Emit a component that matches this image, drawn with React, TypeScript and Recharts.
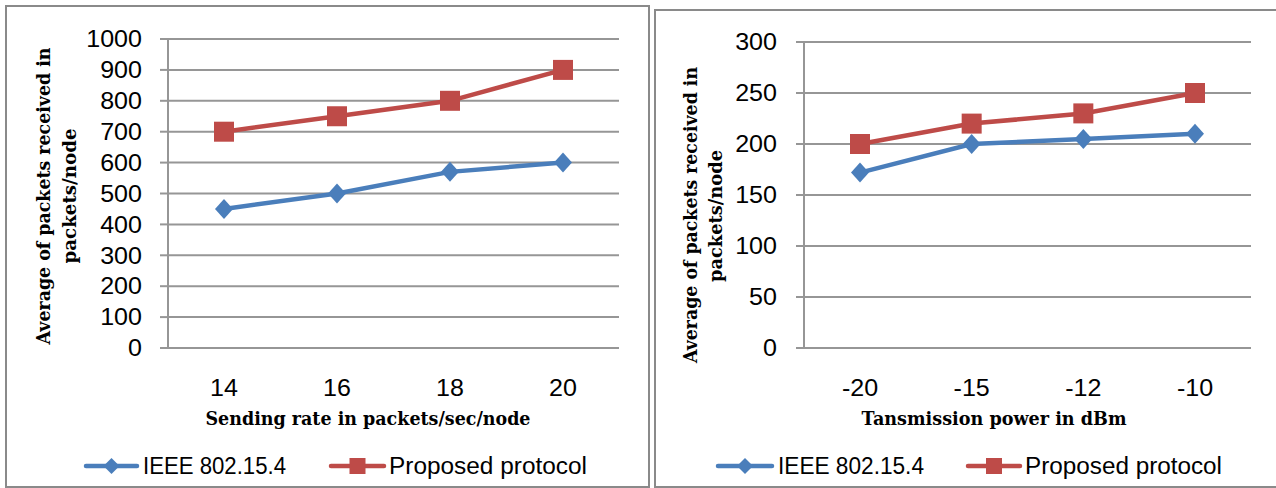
import { LineChart, Line, XAxis, YAxis, CartesianGrid, Legend } from 'recharts'

// left panel: sending rate
const sendRates = ['14', '16', '18', '20']
const ieeeByRate = [450, 500, 570, 600]
const proposedByRate = [700, 750, 800, 900]
const rateTicks = [0, 100, 200, 300, 400, 500, 600, 700, 800, 900, 1000]

// right panel: transmission power
const txPowers = ['-20', '-15', '-12', '-10']
const ieeeByPower = [172, 200, 205, 210]
const proposedByPower = [200, 220, 230, 250]
const powerTicks = [0, 50, 100, 150, 200, 250, 300]

const seriesNames = ['IEEE 802.15.4', 'Proposed protocol']

const BLUE = '#4A7EBB'
const RED = '#BE4B48'
const GRID = '#969696'
const BORDER = '#8a8a8a'
const TICK_FONT = "'Liberation Sans', Arial, sans-serif"
const TITLE_FONT = "'DejaVu Serif', 'Liberation Serif', serif"

const rateData = sendRates.map((x, i) => ({ x, ieee: ieeeByRate[i], proposed: proposedByRate[i] }))
const powerData = txPowers.map((x, i) => ({ x, ieee: ieeeByPower[i], proposed: proposedByPower[i] }))

const XTick = (p: any) => (
  <g transform={`translate(${p.x},${p.y})`}>
    <text transform="scale(1.09,1)" textAnchor="middle" dy="0.71em" fontSize={23} fontFamily={TICK_FONT} fill="#000">
      {p.payload.value}
    </text>
  </g>
)

const YTick = (p: any) => (
  <g transform={`translate(${p.x},${p.y})`}>
    <text transform="scale(1.09,1)" textAnchor="end" dy="0.36em" fontSize={23} fontFamily={TICK_FONT} fill="#000">
      {p.payload.value}
    </text>
  </g>
)

const diamond = (cx: number, cy: number, w: number, h: number) =>
  `${cx},${cy - h} ${cx + w},${cy} ${cx},${cy + h} ${cx - w},${cy}`

const renderDiamond = (p: any) => {
  if (p.cx == null || p.cy == null) return <g key={`d${p.index}`} />
  return <polygon key={`d${p.index}`} points={diamond(p.cx, p.cy, 9, 10)} fill={BLUE} />
}

const renderSquare = (p: any) => {
  if (p.cx == null || p.cy == null) return <g key={`s${p.index}`} />
  return <rect key={`s${p.index}`} x={p.cx - 10} y={p.cy - 10} width={20} height={20} fill={RED} />
}

function LegendBox({ payload, items, width }: any) {
  const list = payload && payload.length ? payload : seriesNames.map((n, i) => ({ value: n, color: i ? RED : BLUE }))
  return (
    <svg width={width} height={30} style={{ display: 'block' }}>
      {list.map((entry: any, i: number) => {
        const it = items[i]
        const mid = (it.x1 + it.x2) / 2
        const color = i === 0 ? BLUE : RED
        return (
          <g key={entry.value}>
            <line x1={it.x1} x2={it.x2} y1={15} y2={15} stroke={color} strokeWidth={4.5} strokeLinecap="round" />
            {i === 0
              ? <polygon points={diamond(mid, 15, 8, 8)} fill={color} />
              : <rect x={mid - 8} y={7} width={16} height={16} fill={color} />}
            <text x={it.tx} y={23} fontSize={23} fontFamily={TICK_FONT} fill="#000" textLength={it.tw} lengthAdjust="spacingAndGlyphs">
              {entry.value}
            </text>
          </g>
        )
      })}
    </svg>
  )
}

function ChartPanel({ data, yTicks, left, width, marginTop, marginRight, yAxisWidth, yTickMargin, xPad, legendItems }: any) {
  return (
    <div style={{ position: 'absolute', left, top: 0 }}>
      <LineChart width={width} height={488} data={data} margin={{ top: marginTop, right: marginRight, bottom: 100, left: 0 }}>
        <CartesianGrid vertical={false} stroke={GRID} strokeWidth={2} />
        <XAxis
          dataKey="x"
          height={40}
          interval={0}
          padding={{ left: xPad, right: xPad }}
          axisLine={{ stroke: GRID, strokeWidth: 2 }}
          tickLine={false}
          tickSize={0}
          tickMargin={32}
          tick={(p: any) => <XTick {...p} />}
        />
        <YAxis
          width={yAxisWidth}
          domain={[0, yTicks[yTicks.length - 1]]}
          ticks={yTicks}
          interval={0}
          axisLine={{ stroke: GRID, strokeWidth: 2 }}
          tickLine={{ stroke: GRID, strokeWidth: 2 }}
          tickSize={8}
          tickMargin={yTickMargin}
          tick={(p: any) => <YTick {...p} />}
        />
        <Line dataKey="ieee" name={seriesNames[0]} stroke={BLUE} strokeWidth={4.5} dot={renderDiamond} activeDot={false} isAnimationActive={false} />
        <Line dataKey="proposed" name={seriesNames[1]} stroke={RED} strokeWidth={4.5} dot={renderSquare} activeDot={false} isAnimationActive={false} />
        <Legend
          layout="horizontal"
          verticalAlign="middle"
          align="center"
          wrapperStyle={{ left: 0, top: 451, width, height: 30 }}
          content={(p: any) => <LegendBox payload={p.payload} items={legendItems} width={width} />}
        />
      </LineChart>
    </div>
  )
}

function Title({ x, y, len, rotate, children }: any) {
  return (
    <text
      x={x}
      y={y}
      textAnchor="middle"
      fontFamily={TITLE_FONT}
      fontWeight="bold"
      fontSize={18}
      fill="#000"
      textLength={len}
      lengthAdjust="spacingAndGlyphs"
      transform={rotate ? `rotate(-90 ${x} ${y})` : undefined}
    >
      {children}
    </text>
  )
}

export default function App() {
  return (
    <div style={{ position: 'absolute', left: 0, top: 0, width: 1276, height: 488, background: '#fff', overflow: 'hidden' }}>
      <div style={{ position: 'absolute', left: 5, top: 5, width: 645, height: 483, border: `2px solid ${BORDER}`, boxSizing: 'border-box' }} />
      <div style={{ position: 'absolute', left: 654, top: 9, width: 640, height: 479, border: `2px solid ${BORDER}`, boxSizing: 'border-box' }} />

      <ChartPanel
        data={rateData}
        yTicks={rateTicks}
        left={0}
        width={648}
        marginTop={39}
        marginRight={29}
        yAxisWidth={168}
        yTickMargin={18}
        xPad={56}
        legendItems={[
          { x1: 86, x2: 137, tx: 143, tw: 143 },
          { x1: 331, x2: 384, tx: 389, tw: 198 },
        ]}
      />
      <ChartPanel
        data={powerData}
        yTicks={powerTicks}
        left={652}
        width={624}
        marginTop={42}
        marginRight={25}
        yAxisWidth={152}
        yTickMargin={19}
        xPad={56}
        legendItems={[
          { x1: 66, x2: 120, tx: 126, tw: 146 },
          { x1: 316, x2: 368, tx: 373, tw: 197 },
        ]}
      />

      <svg width={1276} height={488} style={{ position: 'absolute', left: 0, top: 0, pointerEvents: 'none' }}>
        <Title x={368} y={425} len={325}>Sending rate in packets/sec/node</Title>
        <Title x={50} y={196} len={297} rotate>Average of packets received in</Title>
        <Title x={76} y={196} len={135} rotate>packets/node</Title>

        <Title x={994} y={425} len={265}>Tansmission power in dBm</Title>
        <Title x={697} y={215} len={296} rotate>Average of packets received in</Title>
        <Title x={722} y={216} len={132} rotate>packets/node</Title>
      </svg>
    </div>
  )
}
